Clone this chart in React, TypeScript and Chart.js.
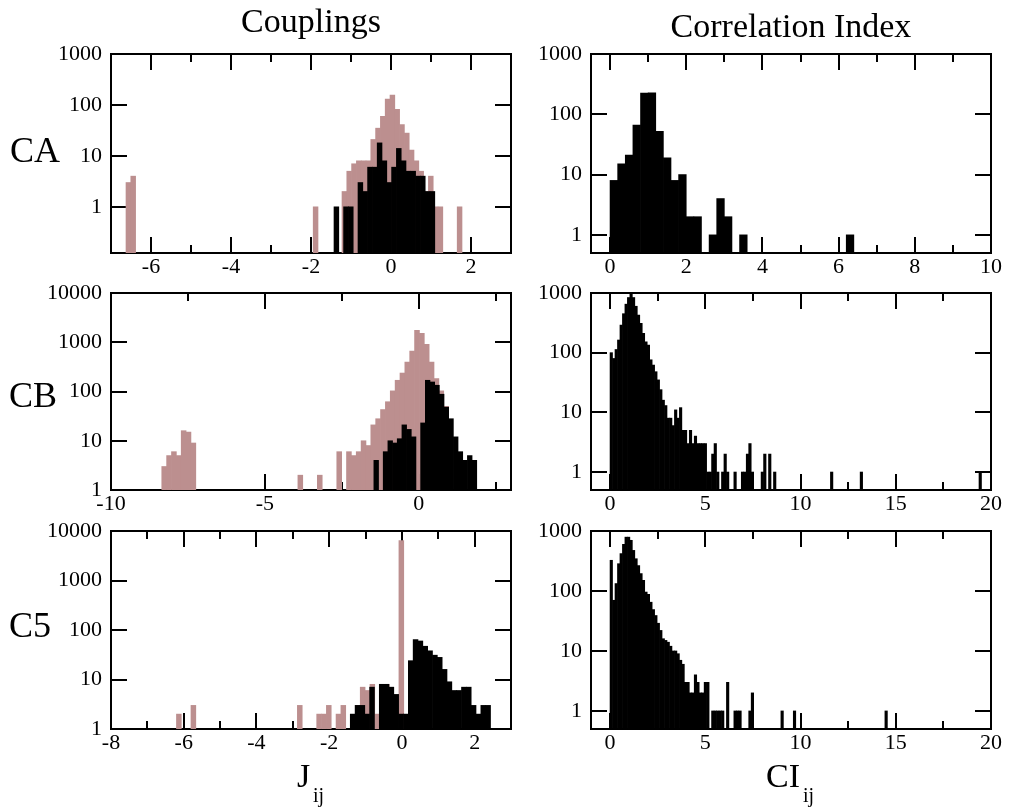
import React, { useEffect, useRef } from "react";
import { Chart, registerables } from "chart.js";

Chart.register(...registerables);

const FONT_FAMILY = "'Liberation Serif', 'Times New Roman', Times, serif";
const PINK = "#bc8f8f";
const BLACK = "#000000";

// ---------- text ----------
const columnTitles = ["Couplings", "Correlation Index"];
const rowLabels = ["CA", "CB", "C5"];
const xTitleMain = ["J", "CI"];
const xTitleSub = "ij";

// ---------- tick values ----------
const caJMajor = [-6, -4, -2, 0, 2];
const caJMinor = [-5, -3, -1, 1];
const caCiMajor = [0, 2, 4, 6, 8, 10];
const caCiMinor = [1, 3, 5, 7, 9];
const cbJMajor = [-10, -5, 0];
const cbJMinor = [-7.5, -2.5, 2.5];
const ciMajor20 = [0, 5, 10, 15, 20];
const ciMinor20 = [2.5, 7.5, 12.5, 17.5];
const c5JMajor = [-8, -6, -4, -2, 0, 2];
const c5JMinor = [-7, -5, -3, -1, 1];
const yTicks1000 = [1, 10, 100, 1000];
const yTicks10000 = [1, 10, 100, 1000, 10000];

// ---------- histograms (bin start, bin width, counts per bin) ----------
// CA couplings
const caJPinkStart = -6.625;
const caJPinkWidth = 0.12;
const caJPinkCounts = [
  3, 4, 0, 0, 0, 0, 0, 0, 0, 0,
  0, 0, 0, 0, 0, 0, 0, 0, 0, 0,
  0, 0, 0, 0, 0, 0, 0, 0, 0, 0,
  0, 0, 0, 0, 0, 0, 0, 0, 0, 1,
  0, 0, 0, 0, 0, 2, 5, 7, 8, 8,
  8, 21, 35, 60, 130, 157, 82, 41, 28, 13,
  8, 5, 2, 4, 1, 1, 0, 0, 0, 1,
];
const caJBlackStart = -1.425;
const caJBlackWidth = 0.12;
const caJBlackCounts = [1, 0, 1, 1, 0, 3, 2, 6, 6, 18, 8, 3, 6, 14, 8, 5, 5, 4, 4, 2, 2];

// CA correlation index
const caCiStart = 0;
const caCiWidth = 0.2;
const caCiCounts = [
  8, 15, 21, 66, 224, 228, 52, 19, 8, 10,
  2, 2, 0, 1, 4, 2, 0, 1, 0, 0,
  0, 0, 0, 0, 0, 0, 0, 0, 0, 0,
  0, 1,
];

// CB couplings
const cbJPinkStart = -8.35;
const cbJPinkWidth = 0.158;
const cbJPinkCounts = [
  3, 5, 6, 5, 16, 15, 9, 0, 0, 0,
  0, 0, 0, 0, 0, 0, 0, 0, 0, 0,
  0, 0, 0, 0, 0, 0, 0, 0, 2, 0,
  0, 0, 2, 0, 0, 0, 6, 0, 6, 5,
  6, 10, 8, 21, 28, 43, 62, 103, 169, 237,
  396, 660, 1740, 1520, 906, 396, 183, 103, 50,
];
const cbJBlackStart = -1.457;
const cbJBlackWidth = 0.152;
const cbJBlackCounts = [4, 0, 6, 10, 9, 11, 21, 17, 12, 0, 23, 169, 156, 134, 88, 48, 28, 12, 6, 4, 5, 4];

// CB correlation index
const cbCiStart = 0;
const cbCiWidth = 0.13;
const cbCiCounts = [
  100, 80, 113, 163, 290, 450, 650, 840, 980, 840,
  600, 425, 310, 210, 152, 134, 76, 62, 48, 35,
  24, 16, 13, 8, 8, 6, 11, 8, 12, 5,
  5, 3, 5, 3, 4, 3, 3, 3, 3, 1,
  1, 2, 3, 1, 0, 1, 2, 1, 0, 0,
  1, 0, 0, 1, 1, 2, 3, 1, 0, 0,
  0, 1, 2, 0, 2, 0, 1, 0, 0, 0,
  0, 0, 0, 0, 0, 0, 0, 0, 0, 0,
  0, 0, 0, 0, 0, 0, 0, 0, 0, 1,
  0, 0, 0, 0, 0, 0, 0, 0, 0, 0,
  0, 1, 0, 0, 0, 0, 0, 0, 0, 0,
  0, 0, 0, 0, 0, 0, 0, 0, 0, 0,
  0, 0, 0, 0, 0, 0, 0, 0, 0, 0,
  0, 0, 0, 0, 0, 0, 0, 0, 0, 0,
  0, 0, 0, 0, 0, 0, 0, 0, 0, 1,
];

// C5 couplings
const c5JPinkStart = -6.2;
const c5JPinkWidth = 0.133;
const c5JPinkCounts = [
  2, 0, 0, 3, 0, 0, 0, 0, 0, 0,
  0, 0, 0, 0, 0, 0, 0, 0, 0, 0,
  0, 0, 0, 0, 0, 3, 0, 0, 0, 2,
  2, 3, 0, 2, 3, 0, 0, 3, 7, 6,
  8, 2, 8, 8, 0, 0, 6400,
];
const c5JBlackStart = -1.42;
const c5JBlackWidth = 0.133;
const c5JBlackCounts = [2, 3, 3, 2, 7, 0, 8, 8, 7, 5, 2, 2, 24, 64, 60, 47, 38, 31, 28, 16, 9, 6, 6, 7, 7, 3, 2, 3, 3];

// C5 correlation index
const c5CiStart = 0;
const c5CiWidth = 0.13;
const c5CiCounts = [
  325, 70, 133, 285, 420, 600, 790, 790, 700, 475,
  345, 265, 195, 150, 96, 88, 65, 49, 39, 29,
  22, 16, 15, 14, 12, 10, 10, 9, 7, 6,
  3, 3, 2, 2, 4, 3, 2, 2, 3, 3,
  0, 1, 1, 1, 1, 1, 0, 3, 0, 0,
  1, 1, 1, 0, 0, 0, 1, 2, 0, 0,
  0, 0, 0, 0, 0, 0, 0, 0, 0, 1,
  0, 0, 0, 0, 1, 0, 0, 0, 0, 0,
  0, 0, 0, 0, 0, 0, 0, 0, 0, 0,
  0, 0, 0, 0, 0, 0, 0, 0, 0, 0,
  0, 0, 0, 0, 0, 0, 0, 0, 0, 0,
  0, 1,
];

// ---------- layout ----------
const Y_AXIS_W = 80;
const X_AXIS_H = 32;
const PAD_TOP = 16;
const PAD_RIGHT = 18;
const PLOT_W = 400;

type Series = { start: number; width: number; counts: number[]; color: string };
type PanelSpec = {
  id: string;
  left: number;
  top: number;
  plotH: number;
  xMin: number;
  xMax: number;
  xMajor: number[];
  xMinor: number[];
  yMin: number;
  yMax: number;
  yTicks: number[];
  series: Series[];
};

const panels: PanelSpec[] = [
  {
    id: "caJ", left: 111, top: 54, plotH: 199, xMin: -7, xMax: 3, xMajor: caJMajor, xMinor: caJMinor,
    yMin: 0.124, yMax: 1000, yTicks: yTicks1000,
    series: [
      { start: caJBlackStart, width: caJBlackWidth, counts: caJBlackCounts, color: BLACK },
      { start: caJPinkStart, width: caJPinkWidth, counts: caJPinkCounts, color: PINK },
    ],
  },
  {
    id: "caCi", left: 591, top: 54, plotH: 199, xMin: -0.5, xMax: 10, xMajor: caCiMajor, xMinor: caCiMinor,
    yMin: 0.5, yMax: 1000, yTicks: yTicks1000,
    series: [{ start: caCiStart, width: caCiWidth, counts: caCiCounts, color: BLACK }],
  },
  {
    id: "cbJ", left: 111, top: 293, plotH: 197, xMin: -10, xMax: 3, xMajor: cbJMajor, xMinor: cbJMinor,
    yMin: 1, yMax: 10000, yTicks: yTicks10000,
    series: [
      { start: cbJBlackStart, width: cbJBlackWidth, counts: cbJBlackCounts, color: BLACK },
      { start: cbJPinkStart, width: cbJPinkWidth, counts: cbJPinkCounts, color: PINK },
    ],
  },
  {
    id: "cbCi", left: 591, top: 293, plotH: 197, xMin: -1, xMax: 20, xMajor: ciMajor20, xMinor: ciMinor20,
    yMin: 0.5, yMax: 1000, yTicks: yTicks1000,
    series: [{ start: cbCiStart, width: cbCiWidth, counts: cbCiCounts, color: BLACK }],
  },
  {
    id: "c5J", left: 111, top: 531, plotH: 198, xMin: -8, xMax: 3, xMajor: c5JMajor, xMinor: c5JMinor,
    yMin: 1, yMax: 10000, yTicks: yTicks10000,
    series: [
      { start: c5JBlackStart, width: c5JBlackWidth, counts: c5JBlackCounts, color: BLACK },
      { start: c5JPinkStart, width: c5JPinkWidth, counts: c5JPinkCounts, color: PINK },
    ],
  },
  {
    id: "c5Ci", left: 591, top: 531, plotH: 198, xMin: -1, xMax: 20, xMajor: ciMajor20, xMinor: ciMinor20,
    yMin: 0.5, yMax: 1000, yTicks: yTicks1000,
    series: [{ start: c5CiStart, width: c5CiWidth, counts: c5CiCounts, color: BLACK }],
  },
];

const fixSize = (dim: "width" | "height", value: number) => (s: any) => {
  s[dim] = value;
  s.paddingTop = 0;
  s.paddingBottom = 0;
  s.paddingLeft = 0;
  s.paddingRight = 0;
};

function Panel({ spec }: { spec: PanelSpec }) {
  const ref = useRef<HTMLCanvasElement | null>(null);
  const cw = Y_AXIS_W + PLOT_W + PAD_RIGHT;
  const ch = PAD_TOP + spec.plotH + X_AXIS_H;

  useEffect(() => {
    if (!ref.current) return;
    const tickFont = { family: FONT_FAMILY, size: 22 };
    const setTicks = (vals: number[]) => (scale: any) => {
      scale.ticks = vals.map((value) => ({ value }));
    };
    const grid = (len: number) => ({
      display: true,
      offset: false,
      drawOnChartArea: false,
      drawTicks: true,
      tickLength: len,
      color: BLACK,
      tickColor: BLACK,
      lineWidth: 2,
      tickWidth: 2,
    });
    const border = { display: true, color: BLACK, width: 2 };
    const xBase = { type: "linear", min: spec.xMin, max: spec.xMax, bounds: "data", offset: false };
    const yBase = { type: "logarithmic", min: spec.yMin, max: spec.yMax, bounds: "data" };
    const scales: any = {
      x: {
        ...xBase, position: "bottom", weight: 10, z: 1,
        afterBuildTicks: setTicks(spec.xMajor),
        ticks: {
          display: true, font: tickFont, color: BLACK, padding: 17, autoSkip: false,
          maxRotation: 0, minRotation: 0, callback: (v: any) => String(v),
        },
        grid: grid(-16), border,
        afterFit: fixSize("height", X_AXIS_H),
      },
      xMinor: {
        ...xBase, position: "bottom", weight: 0, z: 1,
        afterBuildTicks: setTicks(spec.xMinor),
        ticks: { display: false },
        grid: grid(-8), border,
        afterFit: fixSize("height", 0),
      },
      xTop: {
        ...xBase, position: "top", weight: 0, z: 1,
        afterBuildTicks: setTicks(spec.xMajor),
        ticks: { display: false },
        grid: grid(-16), border,
        afterFit: fixSize("height", 0),
      },
      xTopMinor: {
        ...xBase, position: "top", weight: 1, z: 1,
        afterBuildTicks: setTicks(spec.xMinor),
        ticks: { display: false },
        grid: grid(-8), border,
        afterFit: fixSize("height", 0),
      },
      y: {
        ...yBase, position: "left", weight: 10, z: 1,
        afterBuildTicks: setTicks(spec.yTicks),
        ticks: {
          display: true, font: tickFont, color: BLACK, padding: 25, autoSkip: false,
          callback: (v: any) => String(v),
        },
        grid: grid(-16), border,
        afterFit: fixSize("width", Y_AXIS_W),
      },
      yRight: {
        ...yBase, position: "right", weight: 0, z: 1,
        afterBuildTicks: setTicks(spec.yTicks),
        ticks: { display: false },
        grid: grid(-16), border,
        afterFit: fixSize("width", 0),
      },
    };
    const datasets = spec.series.map((s, i) => {
      const xAxisID = i === 0 ? "x" : `xData${i}`;
      if (i > 0) scales[xAxisID] = { ...xBase, display: false };
      const data = s.counts
        .map((c, k) => ({ x: s.start + (k + 0.5) * s.width, y: c }))
        .filter((p) => p.y > 0);
      return {
        data,
        xAxisID,
        yAxisID: "y",
        backgroundColor: s.color,
        borderWidth: 0,
        barPercentage: 1,
        categoryPercentage: 1,
        grouped: false,
      };
    });
    const chart = new Chart(ref.current, {
      type: "bar",
      data: { datasets } as any,
      options: {
        animation: false,
        responsive: false,
        maintainAspectRatio: false,
        devicePixelRatio: 1,
        events: [],
        layout: { padding: { top: PAD_TOP, right: PAD_RIGHT, left: 0, bottom: 0 } },
        plugins: { legend: { display: false }, tooltip: { enabled: false }, title: { display: false } },
        scales,
      } as any,
    });
    return () => chart.destroy();
  }, [spec]);

  return (
    <canvas
      ref={ref}
      width={cw}
      height={ch}
      style={{
        position: "absolute",
        left: spec.left - Y_AXIS_W,
        top: spec.top - PAD_TOP,
        width: cw,
        height: ch,
      }}
    />
  );
}

function Text({ children, left, baseline, size, center }: { children: any; left: number; baseline: number; size: number; center?: boolean }) {
  return (
    <div
      style={{
        position: "absolute",
        left,
        top: baseline - 0.8375 * size,
        fontSize: size,
        lineHeight: `${size}px`,
        fontFamily: FONT_FAMILY,
        whiteSpace: "nowrap",
        color: BLACK,
        transform: center ? "translateX(-50%)" : undefined,
      }}
    >
      {children}
    </div>
  );
}

export default function App() {
  return (
    <div
      style={{
        position: "absolute",
        left: 0,
        top: 0,
        width: 1009,
        height: 810,
        background: "#ffffff",
        overflow: "hidden",
      }}
    >
      {panels.map((p) => (
        <Panel key={p.id} spec={p} />
      ))}
      <Text left={311} baseline={32} size={34} center>{columnTitles[0]}</Text>
      <Text left={791} baseline={37} size={34} center>{columnTitles[1]}</Text>
      <Text left={10} baseline={162} size={36}>{rowLabels[0]}</Text>
      <Text left={9} baseline={407} size={36}>{rowLabels[1]}</Text>
      <Text left={9} baseline={637} size={36}>{rowLabels[2]}</Text>
      <Text left={297} baseline={787} size={34}>{xTitleMain[0]}</Text>
      <Text left={313} baseline={802} size={20}>{xTitleSub}</Text>
      <Text left={766} baseline={787} size={34}>{xTitleMain[1]}</Text>
      <Text left={803} baseline={802} size={20}>{xTitleSub}</Text>
    </div>
  );
}
